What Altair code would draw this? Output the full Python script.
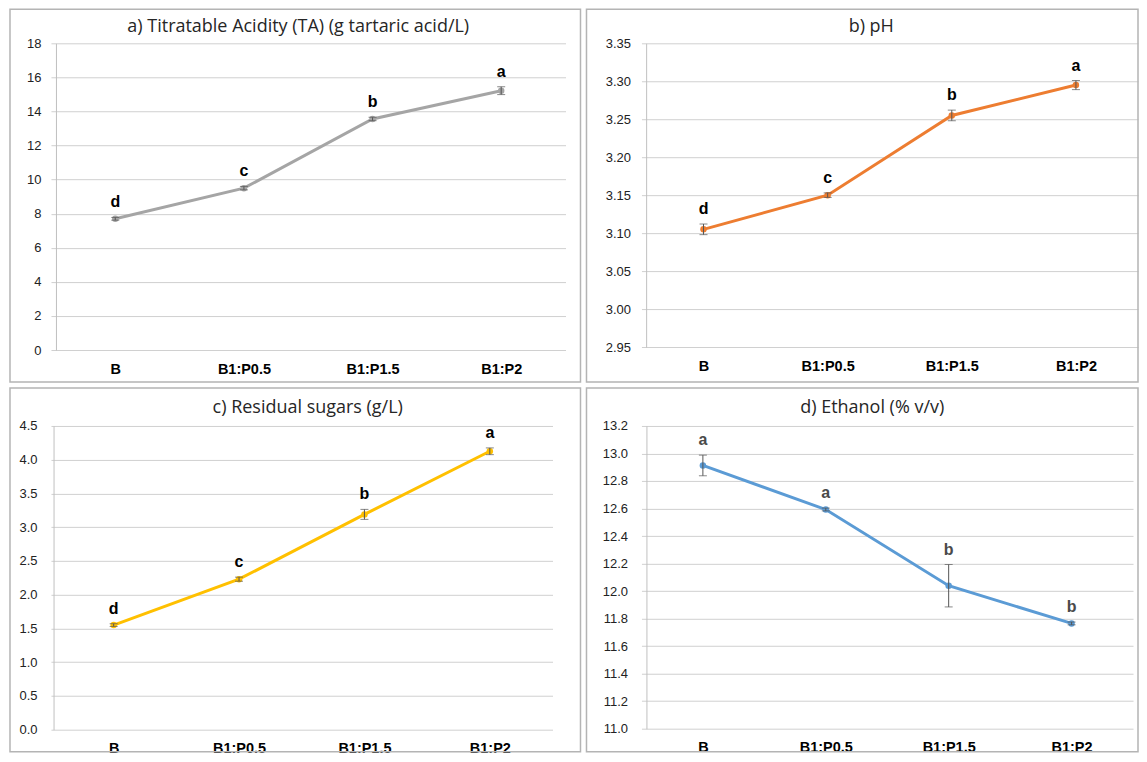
import altair as alt
import pandas as pd

categories = ["B", "B1:P0.5", "B1:P1.5", "B1:P2"]

ta_mean = [7.70, 9.50, 13.56, 15.22]
ta_err = [0.08, 0.10, 0.10, 0.23]
ta_letters = ["d", "c", "b", "a"]
ta_ticks = [0, 2, 4, 6, 8, 10, 12, 14, 16, 18]

ph_mean = [3.105, 3.150, 3.255, 3.295]
ph_err = [0.007, 0.003, 0.007, 0.006]
ph_letters = ["d", "c", "b", "a"]
ph_ticks = [2.95, 3.00, 3.05, 3.10, 3.15, 3.20, 3.25, 3.30, 3.35]

rs_mean = [1.55, 2.23, 3.19, 4.125]
rs_err = [0.02, 0.03, 0.074, 0.05]
rs_letters = ["d", "c", "b", "a"]
rs_ticks = [0.0, 0.5, 1.0, 1.5, 2.0, 2.5, 3.0, 3.5, 4.0, 4.5]

eth_mean = [12.913, 12.593, 12.039, 11.765]
eth_err = [0.075, 0.01, 0.154, 0.01]
eth_letters = ["a", "a", "b", "b"]
eth_ticks = [11.0, 11.2, 11.4, 11.6, 11.8, 12.0, 12.2, 12.4, 12.6, 12.8, 13.0, 13.2]

GRID = "#d0d0d0"
ERR = "#555555"
PAD = {"left": 1, "top": 0, "right": 0, "bottom": 0}


def panel(mean, err, letters, ticks, fmt, color, letter_color, title, title_dx, title_dy,
          width, height, axis_offset, label_pad, border):
    df = pd.DataFrame({
        "cat": categories,
        "v": mean,
        "lo": [m - e for m, e in zip(mean, err)],
        "hi": [m + e for m, e in zip(mean, err)],
        "lab": letters,
    })
    base = alt.Chart(df)
    x = alt.X("cat:N", sort=categories,
              scale=alt.Scale(type="point", padding=0.5),
              axis=alt.Axis(title=None, labelAngle=0, labelFont="Liberation Sans",
                            labelFontWeight="bold", labelFontSize=14.5,
                            labelColor="#000000", labelPadding=12,
                            domain=False, ticks=False, grid=False))
    yscale = alt.Scale(domain=[ticks[0], ticks[-1]], nice=False, zero=False)
    yaxis = alt.Axis(title=None, values=ticks, format=fmt, labelFont="Liberation Sans",
                     labelFontSize=13, labelColor="#222222", labelPadding=label_pad,
                     offset=axis_offset, ticks=False, domain=True,
                     domainColor="#c0c0c0", domainWidth=1,
                     grid=True, gridColor=GRID, gridWidth=1)

    def y(field):
        return alt.Y(field, scale=yscale, axis=yaxis)

    bl, br, bt, bb = border
    frame = alt.Chart(pd.DataFrame({"k": [0]})).mark_rect(
        fillOpacity=0, stroke="#b4b4b4", strokeWidth=1.5
    ).encode(x=alt.value(bl), x2=alt.value(br), y=alt.value(bt), y2=alt.value(bb))

    line = base.mark_line(color=color, strokeWidth=3).encode(x=x, y=y("v:Q"))
    pts = base.mark_circle(color=color, size=42, opacity=1).encode(x=x, y=y("v:Q"))
    rule = base.mark_rule(color=ERR, strokeWidth=1).encode(x=x, y=y("lo:Q"), y2="hi:Q")
    cap_lo = base.mark_tick(color=ERR, thickness=1, size=8).encode(x=x, y=y("lo:Q"))
    cap_hi = base.mark_tick(color=ERR, thickness=1, size=8).encode(x=x, y=y("hi:Q"))
    txt = base.mark_text(font="Liberation Sans", fontWeight="bold", fontSize=16,
                         color=letter_color, baseline="middle", dy=-15).encode(
        x=x, y=y("hi:Q"), text="lab:N")

    return alt.layer(frame, line, pts, rule, cap_lo, cap_hi, txt).properties(
        width=width, height=height,
        title=alt.TitleParams(text=title, font="Open Sans", fontSize=18,
                              fontWeight="normal", color="#262626", anchor="middle",
                              frame="group", dx=title_dx, dy=title_dy, offset=0,
                              baseline="alphabetic"),
    )


pa = panel(ta_mean, ta_err, ta_letters, ta_ticks, "d", "#A5A5A5", "#000000",
           "a) Titratable Acidity (TA) (g tartaric acid/L)", -10, 41,
           515, 307, -5, 15, (-41, 530, -34, 339))
pb = panel(ph_mean, ph_err, ph_letters, ph_ticks, ".2f", "#ED7D31", "#000000",
           "b) pH", -18.5, 41,
           497, 304, -4.7, 15.7, (-55, 497, -34, 339))
pc = panel(rs_mean, rs_err, rs_letters, rs_ticks, ".1f", "#FFC000", "#000000",
           "c) Residual sugars (g/L)", 6, 44,
           502, 304, -2.6, 16.6, (-41, 530, -38, 326))
pd_ = panel(eth_mean, eth_err, eth_letters, eth_ticks, ".1f", "#5B9BD5", "#4a4a4a",
            "d) Ethanol (% v/v)", -15, 44,
            492, 303, -5, 19, (-55, 497, -38, 326))

chart = alt.concat(pa, pb, pc, pd_, columns=2, spacing=76, bounds="flush",
                   align="each").properties(
    padding=PAD
).configure(background="white", padding=PAD).configure_view(stroke=None)

chart.save("out.html", embed_options={"renderer": "svg", "actions": False})
